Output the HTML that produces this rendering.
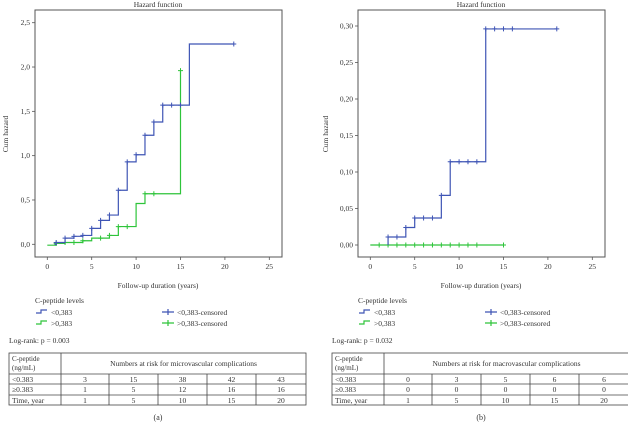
<!DOCTYPE html>
<html><head><meta charset="utf-8">
<style>
body{margin:0;background:#fff;}
svg{display:block;font-family:"Liberation Serif",serif;}
</style></head>
<body>
<svg id="fig" width="628" height="426" viewBox="0 0 628 426" xmlns="http://www.w3.org/2000/svg"></svg>
<script>
// Panel A data (microvascular)
const aBlueX = [0.8, 1, 2, 3, 4, 5, 6, 7, 8, 9, 10, 11, 12, 13, 16, 21];
const aBlueY = [0, 0.02, 0.07, 0.09, 0.10, 0.18, 0.27, 0.33, 0.61, 0.93, 1.01, 1.23, 1.38, 1.57, 2.26, 2.26];
const aBlueCens = [1,2,3,4,5,6,7,8,9,10,11,12,13,14,15,21];
const aGreenX = [0, 1, 2, 4, 5, 7, 8, 10, 11, 15];
const aGreenY = [-0.01, 0.01, 0.02, 0.04, 0.07, 0.10, 0.20, 0.46, 0.57, 1.96];
const aGreenCens = [1,2,3,4,6,7,8,9,11,12,15];
const aYTicks = [0, 0.5, 1.0, 1.5, 2.0, 2.5];
const aYLabels = ["0,0","0,5","1,0","1,5","2,0","2,5"];
// Panel B data (macrovascular)
const bBlueX = [2, 2, 4, 5, 8, 9, 13, 21];
const bBlueY = [0, 0.011, 0.024, 0.037, 0.068, 0.114, 0.296, 0.296];
const bBlueCens = [2,3,4,5,6,7,8,9,10,11,12,13,14,15,16,21];
const bGreenX = [0, 15];
const bGreenY = [0, 0];
const bGreenCens = [1,2,3,4,5,6,7,8,9,10,11,12,15];
const bYTicks = [0, 0.05, 0.10, 0.15, 0.20, 0.25, 0.30];
const bYLabels = ["0,00","0,05","0,10","0,15","0,20","0,25","0,30"];
const xTicks = [0,5,10,15,20,25];
// Tables
const aRow1 = ["3","15","38","42","43"];
const aRow2 = ["1","5","12","16","16"];
const bRow1 = ["0","3","5","6","6"];
const bRow2 = ["0","0","0","0","0"];
const timeRow = ["1","5","10","15","20"];

const NS="http://www.w3.org/2000/svg";
const svg=document.getElementById('fig');
function el(tag,attrs,parent,txt){const e=document.createElementNS(NS,tag);for(const k in attrs)e.setAttribute(k,attrs[k]);if(txt!==undefined)e.textContent=txt;(parent||svg).appendChild(e);return e;}

const BLUE="#3f55b5", GREEN="#2ec43a";

function panel(off, cfg){
  const g=el('g',{transform:`translate(${off},0)`});
  
  
  const L=35,R=282,T=10,B=257;
  const x0=47.3, xs=(269.3-47.3)/25;
  const sx=v=>x0+v*xs;
  const sy=v=>cfg.y0 - v*cfg.ys;
  let t=el('text',{x:158,y:7,'text-anchor':'middle','font-size':7.5,fill:'#333'},g,'Hazard function');
  
  let f=el('rect',{x:L,y:T,width:R-L,height:B-T,fill:'none',stroke:'#555','stroke-width':1},g);
  
  xTicks.forEach(v=>{
    el('line',{x1:sx(v),x2:sx(v),y1:B,y2:B+3,stroke:'#555','stroke-width':0.8},g);
    const tx=el('text',{x:sx(v),y:B+12,'text-anchor':'middle','font-size':7.5,fill:'#333'},g,String(v));
    
  });
  cfg.yTicks.forEach((v,i)=>{
    el('line',{x1:L-3,x2:L,y1:sy(v),y2:sy(v),stroke:'#555','stroke-width':0.8},g);
    const tx=el('text',{x:L-5,y:sy(v)+2.5,'text-anchor':'end','font-size':7.5,fill:'#333'},g,cfg.yLabels[i]);
    
  });
  let xt=el('text',{x:158,y:288,'text-anchor':'middle','font-size':7.5,fill:'#333'},g,'Follow-up duration (years)');
  
  let yt=el('text',{x:0,y:0,'text-anchor':'middle','font-size':7.5,fill:'#333',transform:`translate(${cfg.ylabX},134) rotate(-90)`},g,'Cum hazard');
  
  function series(xs_,ys_,cens,color,name){
    let d=`M${sx(xs_[0])},${sy(ys_[0])}`;
    for(let i=1;i<xs_.length;i++){d+=`H${sx(xs_[i])}V${sy(ys_[i])}`;}
    const p=el('path',{d,fill:'none',stroke:color,'stroke-width':1.2},g);
    
    cens.forEach(c=>{
      let k=0;for(let i=0;i<xs_.length;i++){if(xs_[i]<=c)k=i;}
      const cx=sx(c),cy=sy(ys_[k]);
      const m=el('path',{d:`M${cx-2.5},${cy}H${cx+2.5}M${cx},${cy-2.5}V${cy+2.5}`,stroke:color,'stroke-width':1},g);
      
    });
  }
  series(cfg.gx,cfg.gy,cfg.gc,GREEN,'high-cpeptide');
  series(cfg.bx,cfg.by,cfg.bc,BLUE,'low-cpeptide');
  // legend
  let lt=el('text',{x:35,y:303,'font-size':7.5,fill:'#333'},g,'C-peptide levels');
  
  [[BLUE,'<0,383',313],[GREEN,'>0,383',324]].forEach(([c,l,y])=>{
    el('path',{d:`M36,${y}H41V${y-3}H47`,fill:'none',stroke:c,'stroke-width':1.2},g);
    const tx=el('text',{x:51,y:y+2,'font-size':7.5,fill:'#333'},g,l);
    
  });
  [[BLUE,'<0,383-censored',313],[GREEN,'>0,383-censored',324]].forEach(([c,l,y])=>{
    el('path',{d:`M162,${y-1}H174M168,${y-4}V${y+2}`,stroke:c,'stroke-width':1.2},g);
    const tx=el('text',{x:177,y:y+2,'font-size':7.5,fill:'#333'},g,l);
    
  });
  let lr=el('text',{x:9,y:343,'font-size':7.5,fill:'#333'},g,cfg.logrank);
  
  // table
  const tg=el('g',{},g);
  
  const tl=9,tr=306,c1=61,cols=[61,109,158,207,256,306],rows=[353,374,384,395,405];
  el('rect',{x:tl,y:rows[0],width:tr-tl,height:rows[4]-rows[0],fill:'none',stroke:'#444','stroke-width':0.8},tg);
  for(let i=1;i<4;i++)el('line',{x1:tl,x2:tr,y1:rows[i],y2:rows[i],stroke:'#444','stroke-width':0.8},tg);
  el('line',{x1:c1,x2:c1,y1:rows[0],y2:rows[4],stroke:'#444','stroke-width':0.8},tg);
  for(let i=1;i<5;i++)el('line',{x1:cols[i],x2:cols[i],y1:rows[1],y2:rows[4],stroke:'#444','stroke-width':0.8},tg);
  el('text',{x:12,y:361,'font-size':7,fill:'#333'},tg,'C-peptide');
  el('text',{x:12,y:370,'font-size':7,fill:'#333'},tg,'(ng/mL)');
  el('text',{x:(c1+tr)/2,y:366,'text-anchor':'middle','font-size':7.5,fill:'#333'},tg,cfg.header);
  const labels=['<0.383','\u22650.383','Time, year'];
  [cfg.r1,cfg.r2,timeRow].forEach((row,ri)=>{
    const y=rows[ri+1]+8;
    el('text',{x:12,y,'font-size':7.5,fill:'#333'},tg,labels[ri]);
    row.forEach((v,ci)=>el('text',{x:(cols[ci]+cols[ci+1])/2,y,'text-anchor':'middle','font-size':7.5,fill:'#333'},tg,v));
  });
  let cap=el('text',{x:158,y:420,'text-anchor':'middle','font-size':8,fill:'#333'},g,cfg.cap);
  
}

panel(0,{name:'panel-a',y0:244.3,ys:(244.3-22.7)/2.5,yTicks:aYTicks,yLabels:aYLabels,ylabX:8,
  bx:aBlueX,by:aBlueY,bc:aBlueCens,gx:aGreenX,gy:aGreenY,gc:aGreenCens,
  logrank:'Log-rank: p = 0.003',header:'Numbers at risk for microvascular complications',r1:aRow1,r2:aRow2,cap:'(a)'});
panel(323,{name:'panel-b',y0:245,ys:(245-26)/0.30,yTicks:bYTicks,yLabels:bYLabels,ylabX:5,
  bx:bBlueX,by:bBlueY,bc:bBlueCens,gx:bGreenX,gy:bGreenY,gc:bGreenCens,
  logrank:'Log-rank: p = 0.032',header:'Numbers at risk for macrovascular complications',r1:bRow1,r2:bRow2,cap:'(b)'});
</script>
</body></html>
